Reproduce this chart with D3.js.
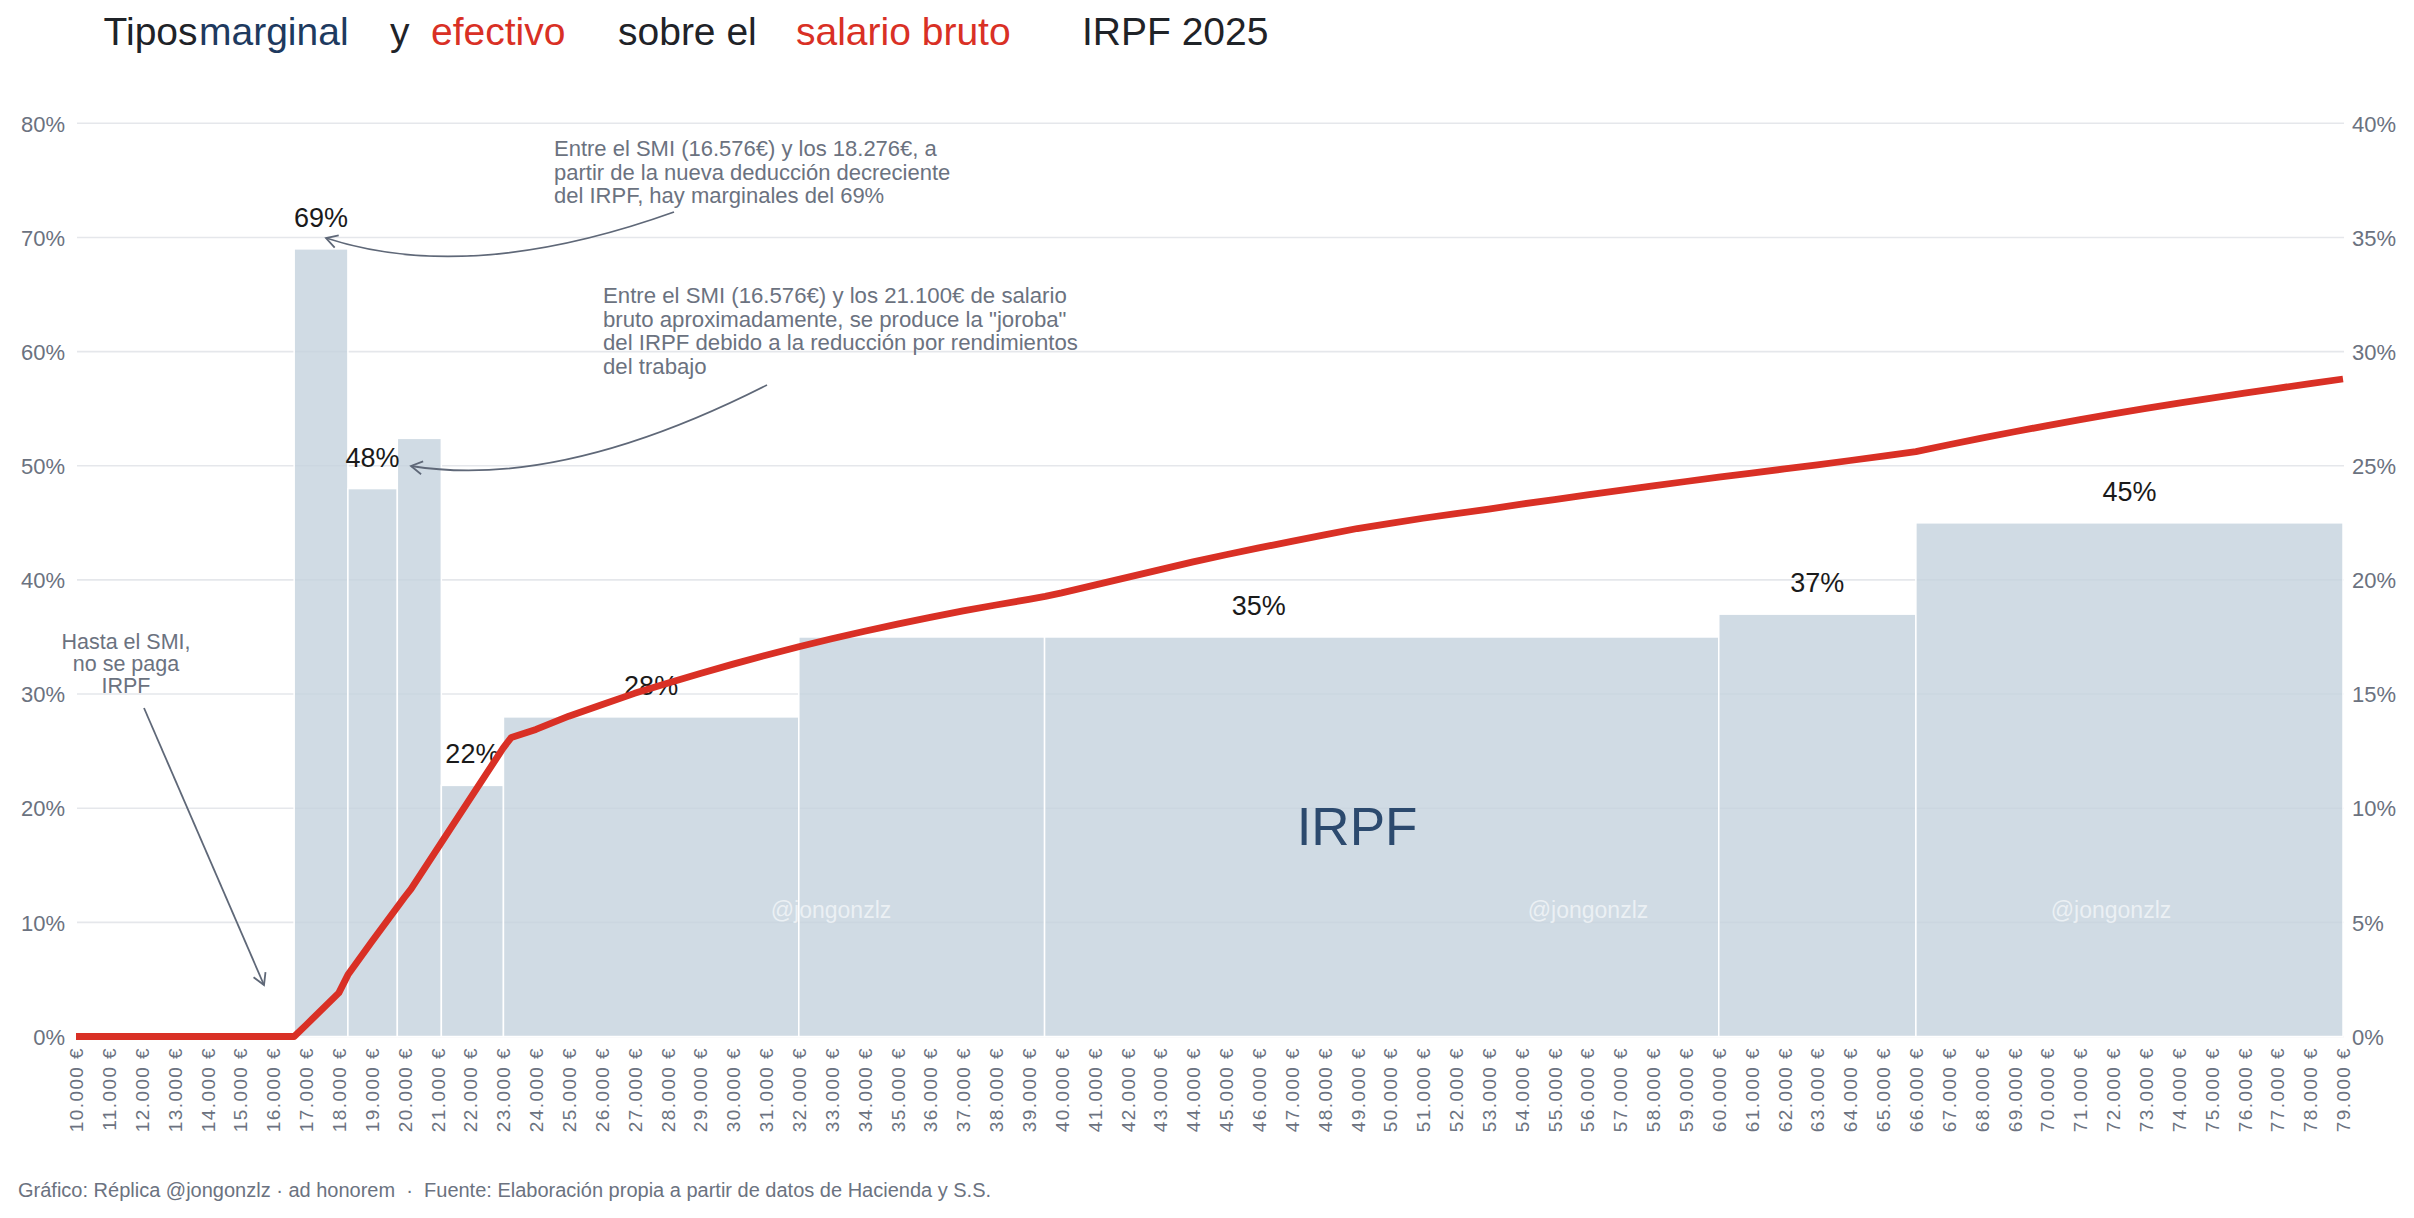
<!DOCTYPE html>
<html>
<head>
<meta charset="utf-8">
<script src="https://cdn.jsdelivr.net/npm/d3@7"></script>
<style>
  html, body { margin: 0; padding: 0; background: #ffffff; }
  svg { display: block; font-family: "Liberation Sans", Arial, Helvetica, sans-serif; }
</style>
</head>
<body>
<svg id="chart" width="2414" height="1218"></svg>
<script>
// ---------------- DATA ----------------
// Marginal rate brackets (salario bruto, €) and marginal rate (%)
const bracketFrom = [16640, 18276, 19780, 21120, 23010, 32000, 39480, 60000, 66000];
const bracketTo   = [18276, 19780, 21120, 23010, 32000, 39480, 60000, 66000, 79000];
const marginalRate = [69, 48, 52.4, 22, 28, 35, 35, 37, 45];
const marginalLabels = ["69%", "48%", "", "22%", "28%", "35%", "", "37%", "45%"];

// Effective rate (%) on the right axis, read at salary points (€)
const effSalary = [10000, 11000, 12000, 13000, 14000, 15000, 16000, 16640, 17000, 18000, 18276,
  19000, 20000, 20200, 21000, 22000, 23000, 23250, 24000, 25000, 26000, 27000, 28000, 29000,
  30000, 31000, 32000, 33000, 34000, 35000, 36000, 37000, 38000, 39000, 39500, 40000, 41000,
  42000, 43000, 44000, 45000, 46000, 47000, 48000, 49000, 50000, 51000, 52000, 53000, 54000,
  55000, 56000, 57000, 58000, 59000, 60000, 61000, 62000, 63000, 64000, 65000, 66000, 67000,
  68000, 69000, 70000, 71000, 72000, 73000, 74000, 75000, 76000, 77000, 78000, 79000];
const effRate = [0, 0, 0, 0, 0, 0, 0, 0, 0.5, 1.91, 2.7,
  4.15, 6.1, 6.47, 8.23, 10.43, 12.63, 13.1, 13.45, 14.03, 14.53, 15.03, 15.47, 15.9,
  16.31, 16.7, 17.07, 17.42, 17.75, 18.06, 18.36, 18.64, 18.9, 19.15, 19.28, 19.43, 19.77,
  20.11, 20.45, 20.79, 21.1, 21.4, 21.69, 21.97, 22.25, 22.48, 22.7, 22.9, 23.1, 23.32,
  23.52, 23.72, 23.92, 24.12, 24.31, 24.5, 24.68, 24.86, 25.04, 25.23, 25.42, 25.62, 25.92,
  26.21, 26.49, 26.76, 27.02, 27.27, 27.51, 27.74, 27.96, 28.18, 28.39, 28.6, 28.8];

// Axis ticks
const xTicks = d3.range(10000, 79001, 1000);
const leftTicks = [0, 10, 20, 30, 40, 50, 60, 70, 80];
const rightTicks = [0, 5, 10, 15, 20, 25, 30, 35, 40];

// Text
const titleParts = [
  { t: "Tipos", c: "#1f2328", x: 103.6 },
  { t: "marginal", c: "#1e3a5f", x: 199 },
  { t: "y", c: "#1f2328", x: 390 },
  { t: "efectivo", c: "#d93025", x: 431 },
  { t: "sobre el", c: "#1f2328", x: 618 },
  { t: "salario bruto", c: "#d93025", x: 796 },
  { t: "IRPF 2025", c: "#1f2328", x: 1082 }
];
const footerText = "Gráfico: Réplica @jongonzlz · ad honorem  ·  Fuente: Elaboración propia a partir de datos de Hacienda y S.S.";
const ann1 = ["Entre el SMI (16.576€) y los 18.276€, a", "partir de la nueva deducción decreciente", "del IRPF, hay marginales del 69%"];
const ann2 = ["Entre el SMI (16.576€) y los 21.100€ de salario", "bruto aproximadamente, se produce la \"joroba\"", "del IRPF debido a la reducción por rendimientos", "del trabajo"];
const ann3 = ["Hasta el SMI,", "no se paga", "IRPF"];

// ---------------- SCALES ----------------
const svg = d3.select("#chart");
const x = d3.scaleLinear().domain([10000, 79000]).range([76, 2343]);
const yL = d3.scaleLinear().domain([0, 80]).range([1036.5, 123.3]);
const yR = d3.scaleLinear().domain([0, 40]).range([1036.5, 123.3]);

const gray = "#6b7280";
const red = "#d93025";

// Gridlines
svg.append("g").selectAll("line").data(leftTicks).join("line")
  .attr("x1", 77).attr("x2", 2344)
  .attr("y1", d => yL(d)).attr("y2", d => yL(d))
  .attr("stroke", "#e5e7eb").attr("stroke-width", 1.6);

// Left axis labels
const yAxisL = d3.axisLeft(yL).tickValues(leftTicks).tickSize(0).tickPadding(0).tickFormat(d => d + "%");
const gL = svg.append("g").attr("transform", "translate(65,0)").call(yAxisL);
gL.select(".domain").remove();
gL.selectAll("text").attr("font-size", 22).attr("fill", gray).attr("font-family", "Liberation Sans, Arial, sans-serif").attr("dy", "0.35em");

// Right axis labels
const yAxisR = d3.axisRight(yR).tickValues(rightTicks).tickSize(0).tickPadding(0).tickFormat(d => d + "%");
const gR = svg.append("g").attr("transform", "translate(2352,0)").call(yAxisR);
gR.select(".domain").remove();
gR.selectAll("text").attr("font-size", 22).attr("fill", gray).attr("font-family", "Liberation Sans, Arial, sans-serif").attr("dy", "0.35em");

// X axis labels (rotated)
const xAxis = d3.axisBottom(x).tickValues(xTicks).tickSize(0).tickPadding(0)
  .tickFormat(d => d3.format(",")(d).replace(/,/g, ".") + " €");
const gX = svg.append("g").attr("transform", "translate(0,1047)").call(xAxis);
gX.select(".domain").remove();
gX.selectAll("text")
  .attr("font-size", 19).attr("fill", gray).attr("letter-spacing", "1.4px")
  .attr("font-family", "Liberation Sans, Arial, sans-serif")
  .attr("text-anchor", "end").attr("transform", "rotate(-90)")
  .attr("x", 0).attr("y", 0).attr("dy", "0.35em");

// Bars
const bars = bracketFrom.map((f, i) => ({ from: f, to: bracketTo[i], v: marginalRate[i], label: marginalLabels[i] }));
svg.append("g").selectAll("rect").data(bars).join("rect")
  .attr("x", d => x(d.from)).attr("width", d => x(d.to) - x(d.from))
  .attr("y", d => yL(d.v)).attr("height", d => yL(0) - yL(d.v))
  .attr("fill", "#c4d2dd").attr("fill-opacity", 0.8)
  .attr("stroke", "#ffffff").attr("stroke-width", 1.5);

// Bar labels (span consecutive bars of equal value without their own label)
const labelData = [];
bars.forEach((b, i) => {
  if (!b.label) return;
  let j = i;
  while (j + 1 < bars.length && !bars[j + 1].label && bars[j + 1].v === b.v) j++;
  labelData.push({ cx: (x(b.from) + x(bars[j].to)) / 2, v: b.v, label: b.label });
});
svg.append("g").selectAll("text").data(labelData).join("text")
  .attr("x", d => d.cx).attr("y", d => yL(d.v) - 22)
  .attr("text-anchor", "middle").attr("font-size", 27).attr("fill", "#1a1a1a")
  .text(d => d.label);

// Watermarks and IRPF label
svg.append("g").selectAll("text").data([831, 1588, 2111]).join("text")
  .attr("x", d => d).attr("y", 918).attr("text-anchor", "middle")
  .attr("font-size", 23).attr("fill", "#ffffff").attr("fill-opacity", 0.6)
  .text("@jongonzlz");
svg.append("text").attr("x", 1357).attr("y", 845).attr("text-anchor", "middle")
  .attr("font-size", 53).attr("fill", "#2c4a6e").text("IRPF");

// Effective rate line
const effData = effSalary.map((s, i) => ({ s, r: effRate[i] }));
svg.append("path").datum(effData)
  .attr("d", d3.line().x(d => x(d.s)).y(d => yR(d.r)))
  .attr("fill", "none").attr("stroke", red).attr("stroke-width", 6.8)
  .attr("stroke-linejoin", "round");

// Title
titleParts.forEach(p => {
  svg.append("text").attr("x", p.x).attr("y", 45).attr("font-size", 39).attr("fill", p.c).text(p.t);
});

// Annotations
function annText(lines, xPos, y0, step, anchor, size) {
  const t = svg.append("text").attr("font-size", size).attr("fill", gray).attr("text-anchor", anchor);
  lines.forEach((l, i) => t.append("tspan").attr("x", xPos).attr("y", y0 + i * step).text(l));
}
annText(ann1, 554, 156, 23.6, "start", 22);
annText(ann2, 603, 303, 23.5, "start", 22.2);
annText(ann3, 126, 649, 22, "middle", 21.5);

function arrowHead(tip, from) {
  const ang = Math.atan2(tip[1] - from[1], tip[0] - from[0]);
  const L = 13, a = Math.PI / 6;
  const p1 = [tip[0] - L * Math.cos(ang - a), tip[1] - L * Math.sin(ang - a)];
  const p2 = [tip[0] - L * Math.cos(ang + a), tip[1] - L * Math.sin(ang + a)];
  return `M${p1[0]},${p1[1]}L${tip[0]},${tip[1]}L${p2[0]},${p2[1]}`;
}
const arrowColor = "#5f6878";
function curvedArrow(p0, c, p2) {
  svg.append("path").attr("d", `M${p0[0]},${p0[1]}Q${c[0]},${c[1]} ${p2[0]},${p2[1]}`)
    .attr("fill", "none").attr("stroke", arrowColor).attr("stroke-width", 1.8);
  svg.append("path").attr("d", arrowHead(p2, c))
    .attr("fill", "none").attr("stroke", arrowColor).attr("stroke-width", 1.8);
}
curvedArrow([674, 212], [470, 285], [326, 238]);
curvedArrow([767, 385], [560, 490], [411, 466]);
svg.append("path").attr("d", "M144,708L264,985").attr("stroke", arrowColor).attr("stroke-width", 1.8);
svg.append("path").attr("d", arrowHead([264, 985], [144, 708])).attr("fill", "none").attr("stroke", arrowColor).attr("stroke-width", 1.8);

// Footer
svg.append("text").attr("x", 18).attr("y", 1197).attr("font-size", 20).attr("fill", gray)
  .style("white-space", "pre").text(footerText);
</script>
</body>
</html>
